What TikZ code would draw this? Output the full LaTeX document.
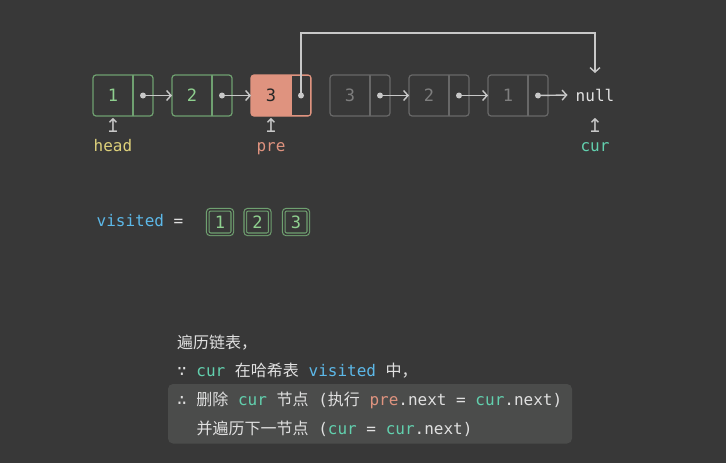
\documentclass[tikz,border=0pt]{standalone}
\usepackage{fontspec}
\setmainfont{Noto Sans CJK SC}
\newfontfamily\mono{DejaVu Sans Mono}
\newfontfamily\symf{DejaVu Sans}
\usetikzlibrary{arrows.meta,calc}
\definecolor{bg}{HTML}{383838}
\definecolor{hl}{HTML}{4B4C4B}
\definecolor{grn}{HTML}{6FA070}
\definecolor{grntxt}{HTML}{8FD08F}
\definecolor{gry}{HTML}{686868}
\definecolor{grytxt}{HTML}{7E7E7E}
\definecolor{sal}{HTML}{DF937F}
\definecolor{arrc}{HTML}{C8C8C8}
\definecolor{yel}{HTML}{DDD07A}
\definecolor{tealc}{HTML}{62D0AE}
\definecolor{blu}{HTML}{5CB8E8}
\definecolor{wht}{HTML}{E0E0E0}
\newcommand{\fs}{\fontsize{16}{19}\selectfont}
\newcommand{\ms}{{\mono\ }}
\newcommand{\cd}[2]{{\mono\color{#1}#2}}
\begin{document}
\begin{tikzpicture}[x=1pt,y=-1pt,
  lbox/.style={rounded corners=3pt, minimum width=60pt, minimum height=41pt, inner sep=0pt, outer sep=0pt, line width=1.2pt},
  gbox/.style={lbox, draw=grn},
  ybox/.style={lbox, draw=gry},
  vtxt/.style={font=\fontsize{17}{19}\selectfont\mono, inner sep=0pt},
  arr/.style={draw=arrc, line width=1.4pt, -{Straight Barb[length=4.5pt,width=10pt]}},
  dotc/.style={circle, fill=arrc, inner sep=0pt, minimum size=6pt},
  uparr/.style={font=\fontsize{19}{19}\selectfont\symf, text=arrc, inner sep=0pt},
  lbl/.style={font=\fs\mono, anchor=base, inner sep=0pt},
  vbox/.style={draw=grn, double=bg, double distance=1.5pt, line width=1.1pt, minimum size=24.5pt, rounded corners=2.5pt, inner sep=0pt, text=grntxt, font=\fontsize{17}{19}\selectfont\mono},
  line/.style={anchor=base west, inner sep=0pt, font=\fs, text=wht},
]
\fill[bg] (0,0) rectangle (726,463);
\useasboundingbox (0,0) rectangle (726,463);

% list nodes
\foreach \i/\x/\v/\st/\tc in {1/123/1/gbox/grntxt, 2/202/2/gbox/grntxt, 4/360/3/ybox/grytxt, 5/439/2/ybox/grytxt, 6/518/1/ybox/grytxt}{
  \node[\st] (n\i) at (\x,95.5) {};
  \draw[line width=1.2pt, draw=\ifnum\i<3 grn\else gry\fi] ($(n\i.north)+(10,0)$) -- ($(n\i.south)+(10,0)$);
  \node[vtxt, text=\tc] (v\i) at ($(n\i.center)+(-10,0)$) {\v};
  \node[dotc] (d\i) at ($(n\i.center)+(20,0)$) {};
}
% node 3 (pre)
\node[lbox, fill=sal] (n3) at (281,95.5) {};
\fill[bg] ($(n3.north)+(10,0.6)$) rectangle ($(n3.south east)+(-0.6,-0.6)$);
\draw[sal, line width=1.2pt, rounded corners=3pt] (n3.north west) rectangle (n3.south east);
\draw[sal, line width=1.2pt] ($(n3.north)+(10,0)$) -- ($(n3.south)+(10,0)$);
\node[vtxt, text=black!85] (v3) at ($(n3.center)+(-10,0)$) {3};
\node[dotc] (d3) at ($(n3.center)+(20,0)$) {};

\node[font=\fs\mono, text=wht, inner xsep=8pt, inner ysep=2pt] (null) at (595,95) {null};

% arrows
\draw[arr] (d1.center) -- (n2.west);
\draw[arr] (d2.center) -- (n3.west);
\draw[arr] (d4.center) -- (n5.west);
\draw[arr] (d5.center) -- (n6.west);
\draw[arr] (d6.center) -- (null.west);
\coordinate (tp) at (595,33);
\coordinate (nt) at (595,73);
\draw[arr] (d3.center) |- (tp) -- (nt);

% pointers
\node[uparr] (u1) at (113,126) {↥};
\node[lbl, text=yel] (head) at (113,151) {head};
\node[uparr] (u3) at (271,126) {↥};
\node[lbl, text=sal] (pre) at (271,151) {pre};
\node[uparr] (u7) at (595,126) {↥};
\node[lbl, text=tealc] (cur) at (595,151) {cur};

% visited
\node[anchor=base west, inner sep=0pt, font=\fs\mono, text=blu] (vis) at (96.5,226.5) {visited};
\node[anchor=base west, inner sep=0pt, font=\fs\mono, text=wht] (eq) at (173.5,226.5) {=};
\node[vbox] (s1) at (220,222) {1};
\node[vbox] (s2) at (257.5,222) {2};
\node[vbox] (s3) at (296,222) {3};

% explanation
\fill[hl, rounded corners=5pt] (168,384) rectangle (572,443.5);
\node[line] (l1) at (177,348) {遍历链表，};
\node[line] (l2) at (177,376) {\cd{wht}{∵}\ms\cd{tealc}{cur}\ms 在哈希表\ms\cd{blu}{visited}\ms 中，};
\node[line] (l3) at (177,405) {\cd{wht}{∴}\ms 删除\ms\cd{tealc}{cur}\ms 节点\ms\cd{wht}{(}执行\ms\cd{sal}{pre}\cd{wht}{.next\ =\ }\cd{tealc}{cur}\cd{wht}{.next)}};
\node[line] (l4) at (196.5,434) {并遍历下一节点\ms\cd{wht}{(}\cd{tealc}{cur}\cd{wht}{\ =\ }\cd{tealc}{cur}\cd{wht}{.next)}};
\end{tikzpicture}
\end{document}
